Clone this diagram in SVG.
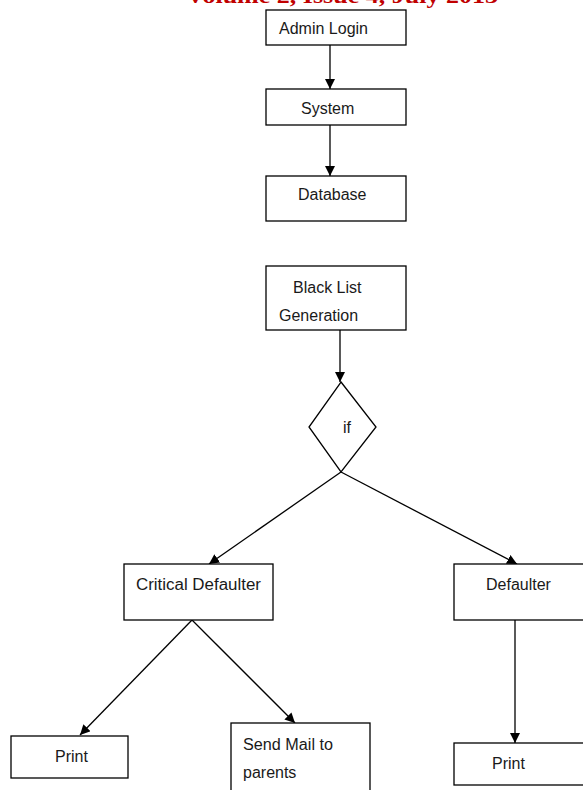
<svg xmlns="http://www.w3.org/2000/svg" width="583" height="790" viewBox="0 0 583 790">
<style>
.box{fill:#fff;stroke:#000;stroke-width:1.3}
.t{font-family:"Liberation Sans",Arial,sans-serif;font-size:16px;fill:#1a1a1a}
.c{stroke:#000;stroke-width:1.3;fill:none}
.hdr{font-family:"Liberation Serif","Times New Roman",serif;font-weight:bold;font-size:22px;fill:#c00000}
</style>
<defs>
<marker id="ah" viewBox="0 0 10 10" refX="10" refY="5" markerWidth="10" markerHeight="10" markerUnits="userSpaceOnUse" orient="auto">
<path d="M0,0 L10,5 L0,10 z" fill="#000"/>
</marker>
</defs>
<rect width="583" height="790" fill="#fff"/>
<text class="hdr" x="186" y="3" textLength="312" lengthAdjust="spacingAndGlyphs">Volume 2, Issue 4, July 2013</text>
<g id="connectors">
<line class="c" x1="330" y1="45" x2="330" y2="89" marker-end="url(#ah)"/>
<line class="c" x1="330" y1="125" x2="330" y2="176" marker-end="url(#ah)"/>
<line class="c" x1="340" y1="330" x2="340" y2="382" marker-end="url(#ah)"/>
<line class="c" x1="341" y1="472" x2="209" y2="564" marker-end="url(#ah)"/>
<line class="c" x1="341" y1="472" x2="517" y2="564" marker-end="url(#ah)"/>
<line class="c" x1="192" y1="620" x2="80" y2="735" marker-end="url(#ah)"/>
<line class="c" x1="192" y1="620" x2="295" y2="723" marker-end="url(#ah)"/>
<line class="c" x1="515" y1="620" x2="515" y2="743" marker-end="url(#ah)"/>
</g>
<g id="admin-login">
<rect class="box" x="266" y="10" width="140" height="35"/>
<text class="t" x="279" y="34" textLength="89" lengthAdjust="spacingAndGlyphs">Admin Login</text>
</g>
<g id="system">
<rect class="box" x="266" y="89" width="140" height="36"/>
<text class="t" x="301" y="114">System</text>
</g>
<g id="database">
<rect class="box" x="266" y="176" width="140" height="45"/>
<text class="t" x="298" y="200">Database</text>
</g>
<g id="blacklist">
<rect class="box" x="266" y="266" width="140" height="64"/>
<text class="t" x="293" y="293">Black List</text>
<text class="t" x="279" y="321">Generation</text>
</g>
<g id="if">
<polygon class="box" points="341,382 376,427 341,472 309,427"/>
<text class="t" x="343" y="433" font-size="19">if</text>
</g>
<g id="critical-defaulter">
<rect class="box" x="124" y="564" width="149" height="56"/>
<text class="t" x="136" y="590" textLength="125" lengthAdjust="spacingAndGlyphs">Critical Defaulter</text>
</g>
<g id="defaulter">
<rect class="box" x="454" y="564" width="132" height="56"/>
<text class="t" x="486" y="590">Defaulter</text>
</g>
<g id="print-left">
<rect class="box" x="11" y="736" width="117" height="42"/>
<text class="t" x="55" y="762">Print</text>
</g>
<g id="send-mail">
<rect class="box" x="231" y="723" width="139" height="70"/>
<text class="t" x="243" y="750" textLength="90" lengthAdjust="spacingAndGlyphs">Send Mail to</text>
<text class="t" x="243" y="778">parents</text>
</g>
<g id="print-right">
<rect class="box" x="454" y="743" width="132" height="42"/>
<text class="t" x="492" y="769">Print</text>
</g>
</svg>
